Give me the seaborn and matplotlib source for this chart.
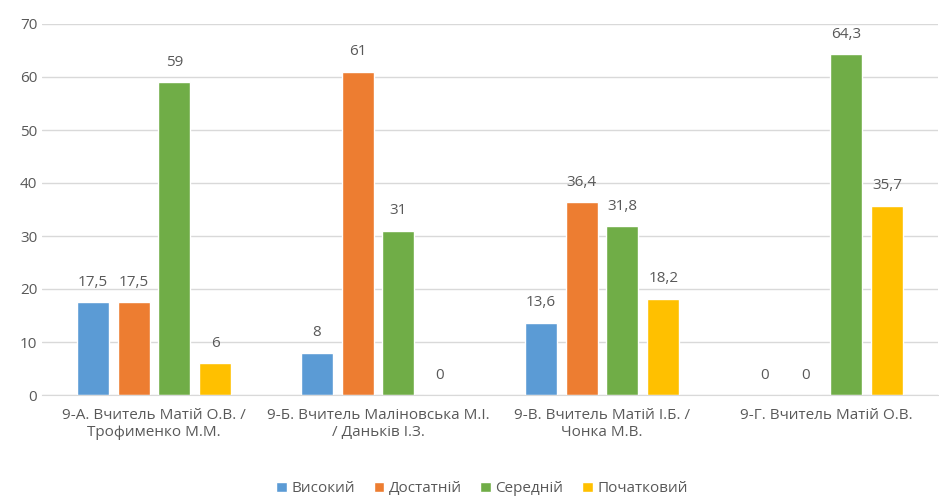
import pandas as pd
import matplotlib.pyplot as plt
import seaborn as sns

groups = ['9-А. Вчитель Матій О.В. /\nТрофименко М.М.',
          '9-Б. Вчитель Маліновська М.І.\n/ Даньків І.З.',
          '9-В. Вчитель Матій І.Б. /\nЧонка М.В.',
          '9-Г. Вчитель Матій О.В.']
levels = ['Високий', 'Достатній', 'Середній', 'Початковий']
visokyi = [17.5, 8, 13.6, 0]
dostatnii = [17.5, 61, 36.4, 0]
serednii = [59, 31, 31.8, 64.3]
pochatkovyi = [6, 0, 18.2, 35.7]
colors = ['#5B9BD5', '#ED7D31', '#70AD47', '#FFC000']

rows = []
for lvl, vals in zip(levels, [visokyi, dostatnii, serednii, pochatkovyi]):
    for g, v in zip(groups, vals):
        rows.append({'group': g, 'level': lvl, 'value': v})
df = pd.DataFrame(rows)

sns.set_style('white')
plt.rcParams['font.family'] = ['Open Sans', 'DejaVu Sans']
txt = '#595959'

fig = plt.figure(figsize=(9.39, 4.98), dpi=100)
ax = fig.add_axes([42 / 939, 103 / 498, 896 / 939, 371 / 498])
sns.barplot(data=df, x='group', y='value', hue='level', order=groups, hue_order=levels,
            palette=colors, saturation=1, width=0.73, gap=0.22, ax=ax, legend=True)

ax.set_ylim(0, 70)
ax.set_yticks(range(0, 71, 10))
ax.yaxis.grid(True, color='#d9d9d9', linewidth=1)
ax.set_axisbelow(True)
for s in ['top', 'right', 'left']:
    ax.spines[s].set_visible(False)
ax.spines['bottom'].set_color('#d9d9d9')
ax.tick_params(axis='both', length=0, colors=txt, labelsize=11)
ax.tick_params(axis='x', pad=9)
ax.set_xlabel('')
ax.set_ylabel('')

for cont in ax.containers:
    labels = [('%g' % v).replace('.', ',') for v in cont.datavalues]
    ax.bar_label(cont, labels=labels, padding=9, color=txt, fontsize=11)

handles, labs = ax.get_legend_handles_labels()
ax.get_legend().remove()
fig.legend(handles, labs, loc='lower center', bbox_to_anchor=(482 / 939, -0.018), ncol=4,
           frameon=False, borderpad=0.2, fontsize=11, handlelength=0.7, handleheight=0.7,
           handletextpad=0.3, columnspacing=1.2, labelcolor=txt)

fig.savefig('out.png', dpi=100)
